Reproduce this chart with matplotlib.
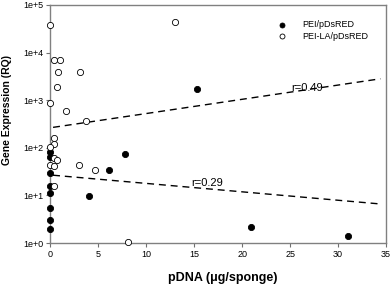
import numpy as np
import matplotlib.pyplot as plt

plt.rcParams['font.family'] = ['Liberation Sans', 'DejaVu Sans']

# PEI/pDsRED (filled)
pei_x = [0, 0, 0, 0, 0, 0, 0, 0, 4.0, 6.1, 7.8, 15.3, 20.9, 31.0]
pei_y = [83, 65, 29, 16, 11, 5.4, 3.0, 2.0, 9.8, 34, 74, 1700, 2.2, 1.4]

# PEI-LA/pDsRED (open)
la_x = [0, 13.0, 0.45, 1.05, 0.8, 3.06, 0.7, 0, 1.6, 3.76, 0.35, 0.35, 0,
        0.35, 0.7, 0, 0.35, 3.0, 4.67, 0.35, 8.15]
la_y = [38000, 44000, 7000, 7000, 3900, 3900, 1900, 870, 590, 360, 160, 120, 105,
        60, 55, 44, 42, 43, 35, 16, 1.05]

# fitted lines, log10(y) = a + b*x
fit_la = (2.42, 0.0299)
fit_pei = (1.43, -0.0177)
fit_x = (0.3, 34.4)

xticks = [0, 5, 10, 15, 20, 25, 30, 35]
yticks = [1, 10, 100, 1000, 1e4, 1e5]
ylabels = ['1e+0', '1e+1', '1e+2', '1e+3', '1e+4', '1e+5']

fig = plt.figure(figsize=(3.92, 2.87), dpi=100)
ax = fig.add_axes([0.128, 0.153, 0.857, 0.83])

ax.scatter(pei_x, pei_y, s=20, facecolor='black', edgecolor='black', lw=0.6,
           label='PEI/pDsRED', zorder=3, clip_on=False)
ax.scatter(la_x, la_y, s=20, facecolor='white', edgecolor='black', lw=0.6,
           label='PEI-LA/pDsRED', zorder=3, clip_on=False)

for a, b in (fit_la, fit_pei):
    xx = np.array(fit_x)
    ax.plot(xx, 10 ** (a + b * xx), ls=(0, (5, 3.5)), color='black', lw=1.0)

ax.text(25.1, 1800, 'r=0.49', fontsize=8, va='center')
ax.text(14.7, 18, 'r=0.29', fontsize=8, va='center')

ax.set_yscale('log')
ax.set_xlim(0, 35)
ax.set_ylim(1, 1e5)
ax.set_xticks(xticks)
ax.set_yticks(yticks)
ax.set_yticklabels(ylabels)
ax.minorticks_off()
ax.tick_params(labelsize=6.5, length=3, width=0.8, color='#707070', pad=2)

for sp in ax.spines.values():
    sp.set_color('#808080')
    sp.set_linewidth(1.0)

ax.set_xlabel('pDNA (\u03bcg/sponge)', fontsize=9, fontweight='bold')
ax.set_ylabel('Gene Expression (RQ)', fontsize=7.5, fontweight='bold')
ax.xaxis.set_label_coords(0.515, -0.12)
ax.yaxis.set_label_coords(-0.115, 0.56)

ax.legend(loc='upper right', fontsize=6.5, frameon=False, handletextpad=1.3,
          borderaxespad=1.0, labelspacing=0.3, markerscale=0.8,
          bbox_to_anchor=(0.985, 0.99))

fig.savefig('out.png', dpi=100)
